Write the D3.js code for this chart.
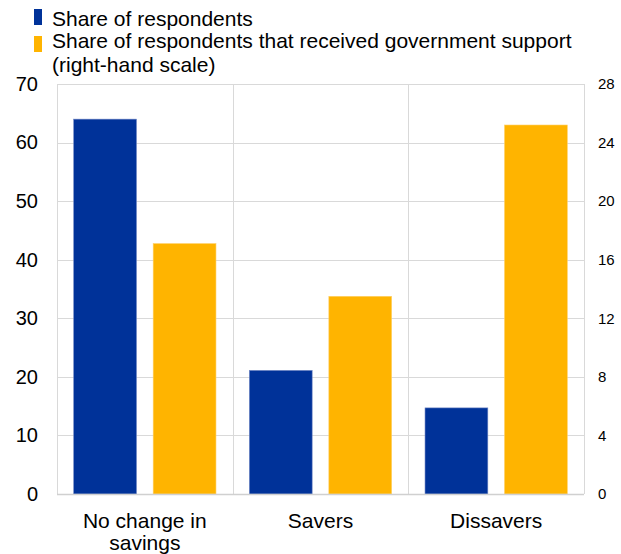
<!DOCTYPE html>
<html lang="en">
<head>
    <meta charset="UTF-8">
    <title>Savings behaviour and government support</title>
    <script src="https://d3js.org/d3.v7.min.js"></script>
    <style>
        body {
            margin: 0;
            padding: 0;
            background: #fff;
        }

        svg {
            display: block;
            font-family: "Liberation Sans", Arial, sans-serif;
        }
    </style>
</head>
<body>
<svg id="chart" width="621" height="554"></svg>

<script>
    // Data
    var categories = ["No change in savings", "Savers", "Dissavers"];
    var categoryLines = [["No change in", "savings"], ["Savers"], ["Dissavers"]];
    var series = ["Share of respondents", "Share of respondents that received government support"];
    var legendLines = [["Share of respondents"],
                       ["Share of respondents that received government support", "(right-hand scale)"]];
    var respondents = [64.0, 21.1, 14.7];      // left-hand scale
    var supported = [17.1, 13.5, 25.2];        // right-hand scale
    var leftTicks = [0, 10, 20, 30, 40, 50, 60, 70];
    var rightTicks = [0, 4, 8, 12, 16, 20, 24, 28];

    var colors = ["#003299", "#FFB400"];

    var svg = d3.select("#chart"),
        width = +svg.attr("width"),
        height = +svg.attr("height");

    var margin = {top: 84, right: 37, bottom: 60, left: 57};
    var innerW = width - margin.left - margin.right,
        innerH = height - margin.top - margin.bottom;

    var g = svg.append("g")
        .attr("transform", "translate(" + margin.left + "," + margin.top + ")");

    // Scales
    var x0 = d3.scaleBand()
        .domain(categories)
        .range([0, innerW])
        .paddingInner(0)
        .paddingOuter(0);

    var x1 = d3.scaleBand()
        .domain(series)
        .range([0, x0.bandwidth()])
        .paddingInner(0.21)
        .paddingOuter(0.21);

    var yLeft = d3.scaleLinear().domain([0, 70]).range([innerH, 0]);
    var yRight = d3.scaleLinear().domain([0, 28]).range([innerH, 0]);

    // Horizontal gridlines
    g.append("g")
        .selectAll("line")
        .data(leftTicks.slice(1))
        .enter().append("line")
        .attr("x1", 0)
        .attr("x2", innerW)
        .attr("y1", function(d) { return Math.round(yLeft(d)) + 0.5; })
        .attr("y2", function(d) { return Math.round(yLeft(d)) + 0.5; })
        .attr("stroke", "#d9d9d9")
        .attr("stroke-width", 1);

    // Vertical gridlines at category boundaries
    var bounds = categories.map(function(c) { return x0(c); }).concat([innerW]);
    g.append("g")
        .selectAll("line")
        .data(bounds)
        .enter().append("line")
        .attr("x1", function(d) { return Math.round(d) + 0.5; })
        .attr("x2", function(d) { return Math.round(d) + 0.5; })
        .attr("y1", 0)
        .attr("y2", innerH)
        .attr("stroke", "#d9d9d9")
        .attr("stroke-width", 1);

    // Bars
    var rows = categories.map(function(c, i) {
        return {cat: c, vals: [
            {s: series[0], y: yLeft(respondents[i]), c: colors[0]},
            {s: series[1], y: yRight(supported[i]), c: colors[1]}
        ]};
    });

    g.selectAll("g.cat")
        .data(rows)
        .enter().append("g")
        .attr("class", "cat")
        .attr("transform", function(d) { return "translate(" + x0(d.cat) + ",0)"; })
        .selectAll("rect")
        .data(function(d) { return d.vals; })
        .enter().append("rect")
        .attr("x", function(d) { return x1(d.s); })
        .attr("width", x1.bandwidth())
        .attr("y", function(d) { return d.y; })
        .attr("height", function(d) { return innerH - d.y; })
        .attr("fill", function(d) { return d.c; })
        .attr("stroke", function(d, i) { return i === 0 ? "#6f86c4" : "#ffd066"; })
        .attr("stroke-width", 0.6);

    // Baseline
    g.append("line")
        .attr("x1", 0)
        .attr("x2", innerW)
        .attr("y1", innerH + 0.5)
        .attr("y2", innerH + 0.5)
        .attr("stroke", "#d0d0d0")
        .attr("stroke-width", 1.5);

    // Left axis
    var leftAxis = g.append("g")
        .call(d3.axisLeft(yLeft).tickValues(leftTicks).tickSize(0).tickPadding(19));
    leftAxis.select(".domain").remove();
    leftAxis.selectAll("text")
        .attr("font-size", 20)
        .attr("font-family", "Liberation Sans, Arial, sans-serif")
        .attr("fill", "#000");

    // Right axis
    var rightAxis = g.append("g")
        .attr("transform", "translate(" + innerW + ",0)")
        .call(d3.axisRight(yRight).tickValues(rightTicks).tickSize(0).tickPadding(14));
    rightAxis.select(".domain").remove();
    rightAxis.selectAll("text")
        .attr("font-size", 15)
        .attr("font-family", "Liberation Sans, Arial, sans-serif")
        .attr("fill", "#000");

    // Category labels
    g.selectAll("text.cat-label")
        .data(categories)
        .enter().append("text")
        .attr("class", "cat-label")
        .attr("text-anchor", "middle")
        .attr("x", function(d) { return x0(d) + x0.bandwidth() / 2; })
        .attr("y", innerH + 34)
        .attr("font-size", 21)
        .attr("fill", "#000")
        .selectAll("tspan")
        .data(function(d, i) { return categoryLines[i]; })
        .enter().append("tspan")
        .attr("x", function() { return d3.select(this.parentNode).attr("x"); })
        .attr("dy", function(d, i) { return i === 0 ? 0 : 22; })
        .text(function(d) { return d; });

    // Legend
    var legend = svg.append("g").attr("class", "legend");
    var legendTop = [9, 36];
    legendLines.forEach(function(lines, i) {
        legend.append("rect")
            .attr("x", 34)
            .attr("y", legendTop[i])
            .attr("width", 8)
            .attr("height", 16)
            .attr("fill", colors[i]);
        var t = legend.append("text")
            .attr("x", 52)
            .attr("y", i === 0 ? 26 : 48)
            .attr("font-size", 21)
            .attr("fill", "#000");
        lines.forEach(function(line, j) {
            t.append("tspan")
                .attr("x", 52)
                .attr("dy", j === 0 ? 0 : 24)
                .text(line);
        });
    });
</script>
</body>
</html>
